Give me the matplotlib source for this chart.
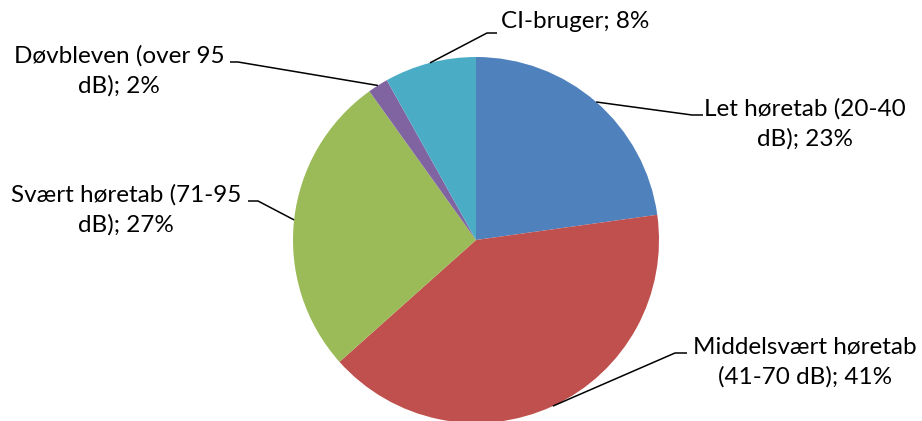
import matplotlib
matplotlib.use("Agg")
import matplotlib.pyplot as plt
import numpy as np

# ---- data ----
categories = ["Let høretab (20-40 dB)", "Middelsvært høretab (41-70 dB)",
              "Svært høretab (71-95 dB)", "Døvbleven (over 95 dB)", "CI-bruger"]
label_lines = ["Let høretab (20-40\ndB)", "Middelsvært høretab\n(41-70 dB)",
               "Svært høretab (71-95\ndB)", "Døvbleven (over 95\ndB)", "CI-bruger"]
values = [22.8, 40.6, 26.7, 1.8, 8.1]
colors = ["#4F81BD", "#C0504D", "#9BBB59", "#8064A2", "#4BACC6"]

W, H = 922, 421
fig = plt.figure(figsize=(W / 100, H / 100), dpi=100)
ax = fig.add_axes([0, 0, 1, 1])

def Y(y):
    return H - y

cx, cy, R = 476, 240, 183
wedges, _ = ax.pie(values, colors=colors, startangle=90, counterclock=False,
                   center=(cx, Y(cy)), radius=R,
                   wedgeprops=dict(linewidth=0))
ax.set_xlim(0, W)
ax.set_ylim(0, H)
ax.set_aspect("auto")
ax.axis("off")

# label layout: (text center x, text center y, elbow point, end of horizontal)
layout = [
    (805, 124, (692, 115), (703, 115)),
    (805, 362, (675, 353), (687, 353)),
    (126, 210, (258, 201), (248, 201)),
    (119, 71, (238, 62), (230, 62)),
    (575, 22, (487, 33), (497, 33)),
]

total = sum(values)
cum = 0.0
for v, lab, (tx, ty, elbow, end) in zip(values, label_lines, layout):
    mid = (cum + v / 2) / total * 2 * np.pi
    cum += v
    px = cx + R * np.sin(mid)
    py = cy - R * np.cos(mid)
    ax.plot([px, elbow[0], end[0]], [Y(py), Y(elbow[1]), Y(end[1])],
            color="black", lw=1.1, solid_capstyle="butt")
    txt = f"{lab}; {round(v / total * 100):.0f}%"
    ax.text(tx, Y(ty), txt, ha="center", va="center", multialignment="center",
            fontsize=17.5, family=["Lato", "DejaVu Sans"], color="black",
            linespacing=1.5)

fig.savefig("out.png", dpi=100)
